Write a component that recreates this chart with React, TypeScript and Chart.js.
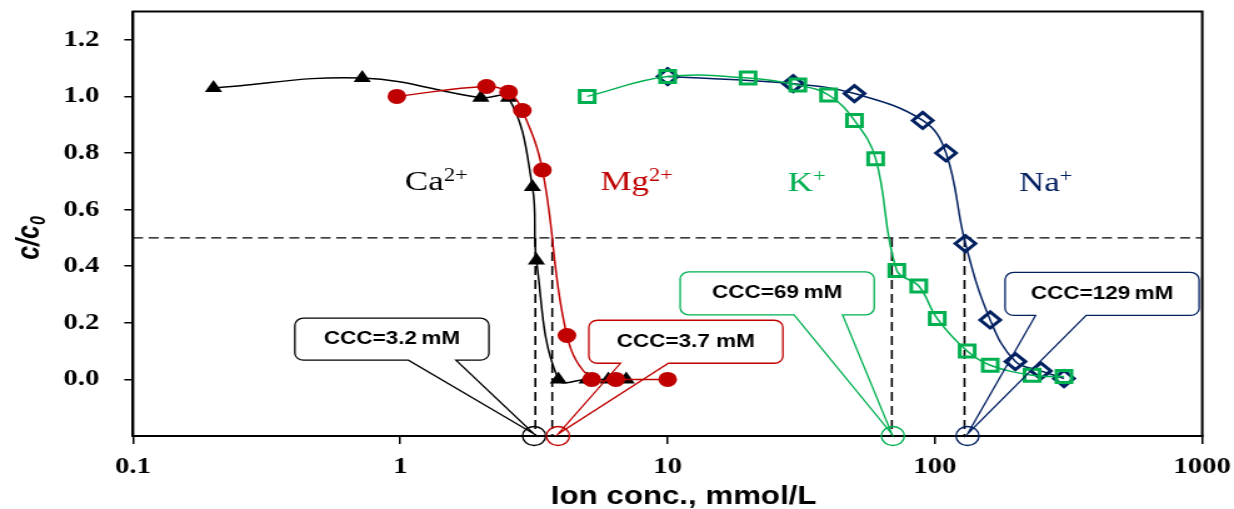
import React, { useEffect, useRef } from 'react';
import { Chart, registerables } from 'chart.js';

Chart.register(...registerables);

// ---------- data ----------
const CA_X = [0.2, 0.72, 2.0, 2.54, 3.12, 3.23, 3.9, 5.0, 6.0, 7.0];
const CA_Y = [1.03, 1.065, 0.995, 0.995, 0.68, 0.42, 0.0, 0.0, 0.0, 0.0];
const MG_X = [0.97, 2.1, 2.54, 2.86, 3.4, 4.2, 5.2, 6.4, 10];
const MG_Y = [1.0, 1.035, 1.015, 0.95, 0.74, 0.155, 0.0, 0.0, 0.0];
const K_X = [5, 10, 20, 30.7, 40, 50, 60, 72, 87, 102, 132, 161, 231, 304];
const K_Y = [1.0, 1.07, 1.065, 1.04, 1.005, 0.915, 0.78, 0.385, 0.33, 0.215, 0.1, 0.05, 0.015, 0.01];
const NA_X = [10, 29.5, 50, 90, 110, 130, 161, 200, 249, 304];
const NA_Y = [1.07, 1.045, 1.01, 0.915, 0.8, 0.48, 0.21, 0.063, 0.03, 0.003];

const ION_NAMES = ['Ca', 'Mg', 'K', 'Na'];
const ION_CHARGES = ['2+', '2+', '+', '+'];
const ION_COLORS = ['#000000', '#c00000', '#00b050', '#002060'];
const ION_LABEL_X = [1.04, 5.6, 28.1, 206];
const ION_LABEL_Y = [0.67, 0.67, 0.665, 0.665];

const CCC_VALUES = [3.2, 3.7, 69, 129];
const CCC_LABELS = ['CCC=3.2\u202FmM', 'CCC=3.7 mM', 'CCC=69\u202FmM', 'CCC=129\u202FmM'];
const THRESHOLD = 0.5;

const X_TICKS = [0.1, 1, 10, 100, 1000];
const X_TICK_LABELS = ['0.1', '1', '10', '100', '1000'];
const Y_TICKS = [0, 0.2, 0.4, 0.6, 0.8, 1.0, 1.2];
const Y_TICK_LABELS = ['0.0', '0.2', '0.4', '0.6', '0.8', '1.0', '1.2'];

// callout boxes (centre in data units)
const BOX_CX = [0.93, 11.7, 25.7, 422];
const BOX_CY = [0.142, 0.133, 0.304, 0.302];

// ---------- layout ----------
const SX = 1.25; // horizontal stretch of the original figure
const W = Math.round(1234 / SX);
const H = 509;
const LEFT = 133 / SX;
const RIGHT_PAD = W - 1202 / SX;
const TOP = 9;
const BOTTOM_H = H - 436;

const BOX_W = 194 / SX;
const BOX_H = [42, 43, 43, 43];
const WEDGE_F1 = [0.585, 0.163, 0.587, 0.157];
const WEDGE_F2 = [0.83, 0.41, 0.837, 0.418];
const TIP_DX = [-1, 4.6, 0, 2.4];
const CIRCLE_DX = [-1, 4.6, 0.8, 2.4];

const SERIF = '"Liberation Serif", "Times New Roman", serif';
const SANS = '"Liberation Sans", Arial, sans-serif';

function pts(xs: number[], ys: number[]) {
  return xs.map((x, i) => ({ x, y: ys[i] }));
}

const overlayPlugin = {
  id: 'overlay',
  beforeDatasetsDraw(chart: any) {
    const { ctx, chartArea: a, scales } = chart;
    const x = scales.x;
    const y = scales.y;
    ctx.save();
    const y5 = y.getPixelForValue(THRESHOLD);
    ctx.strokeStyle = '#000';
    ctx.lineWidth = 1.4;
    ctx.setLineDash([8, 4.5]);
    ctx.beginPath();
    ctx.moveTo(a.left, y5);
    ctx.lineTo(a.right, y5);
    ctx.stroke();
    ctx.setLineDash([9, 5]);
    ctx.lineWidth = 1.6;
    CCC_VALUES.forEach((v) => {
      const px = x.getPixelForValue(v);
      ctx.beginPath();
      ctx.moveTo(px, y5);
      ctx.lineTo(px, a.bottom);
      ctx.stroke();
    });
    ctx.setLineDash([]);
    ctx.lineWidth = 2;
    ctx.strokeRect(a.left, a.top, a.right - a.left, a.bottom - a.top);

    // ion labels
    ION_NAMES.forEach((name, i) => {
      const px = x.getPixelForValue(ION_LABEL_X[i]);
      const py = y.getPixelForValue(ION_LABEL_Y[i]);
      ctx.fillStyle = ION_COLORS[i];
      ctx.textAlign = 'left';
      ctx.textBaseline = 'alphabetic';
      ctx.font = `28px ${SERIF}`;
      ctx.fillText(name, px, py);
      const w = ctx.measureText(name).width;
      ctx.font = `18px ${SERIF}`;
      ctx.fillText(ION_CHARGES[i], px + w, py - 9);
    });
    ctx.restore();
  },
  afterDatasetsDraw(chart: any) {
    const { ctx, chartArea: a, scales } = chart;
    const x = scales.x;
    const y = scales.y;
    ctx.save();
    CCC_VALUES.forEach((v, i) => {
      const color = ION_COLORS[i];
      const cx = x.getPixelForValue(BOX_CX[i]);
      const cy = y.getPixelForValue(BOX_CY[i]);
      const h = BOX_H[i];
      const l = cx - BOX_W / 2;
      const r = cx + BOX_W / 2;
      const t = cy - h / 2;
      const b = cy + h / 2;
      const rad = 7;
      const w1 = l + WEDGE_F1[i] * BOX_W;
      const w2 = l + WEDGE_F2[i] * BOX_W;
      const vx = x.getPixelForValue(v);
      const tipX = vx + TIP_DX[i];
      const tipY = a.bottom - 2;

      // white body
      ctx.beginPath();
      ctx.moveTo(l + rad, t);
      ctx.arcTo(r, t, r, b, rad);
      ctx.arcTo(r, b, l, b, rad);
      ctx.arcTo(l, b, l, t, rad);
      ctx.arcTo(l, t, r, t, rad);
      ctx.closePath();
      ctx.fillStyle = '#fff';
      ctx.fill();

      // outline with pointer
      ctx.beginPath();
      ctx.moveTo(l + rad, t);
      ctx.lineTo(r - rad, t);
      ctx.arcTo(r, t, r, t + rad, rad);
      ctx.lineTo(r, b - rad);
      ctx.arcTo(r, b, r - rad, b, rad);
      ctx.lineTo(w2, b);
      ctx.lineTo(tipX, tipY);
      ctx.lineTo(w1, b);
      ctx.lineTo(l + rad, b);
      ctx.arcTo(l, b, l, b - rad, rad);
      ctx.lineTo(l, t + rad);
      ctx.arcTo(l, t, l + rad, t, rad);
      ctx.closePath();
      ctx.strokeStyle = color;
      ctx.lineWidth = 1.3;
      ctx.stroke();

      // circle marking the CCC on the axis
      ctx.beginPath();
      ctx.ellipse(vx + CIRCLE_DX[i], a.bottom, 9.2, 9.5, 0, 0, Math.PI * 2);
      ctx.stroke();

      ctx.fillStyle = '#000';
      ctx.font = `bold 18px ${SANS}`;
      ctx.textAlign = 'center';
      ctx.textBaseline = 'middle';
      ctx.fillText(CCC_LABELS[i], cx, cy);
    });

    // axis titles
    ctx.fillStyle = '#000';
    ctx.font = `bold 25px ${SANS}`;
    ctx.textAlign = 'center';
    ctx.textBaseline = 'alphabetic';
    ctx.fillText('Ion conc., mmol/L', 683.5 / SX, 504);

    ctx.translate(24, 238);
    ctx.rotate(-Math.PI / 2);
    ctx.font = `italic bold 25px ${SANS}`;
    const main = 'c/c';
    const wm = ctx.measureText(main).width;
    ctx.font = `italic bold 16px ${SANS}`;
    const ws = ctx.measureText('0').width;
    const start = -(wm + ws) / 2;
    ctx.textAlign = 'left';
    ctx.font = `italic bold 25px ${SANS}`;
    ctx.fillText(main, start, 7);
    ctx.font = `italic bold 16px ${SANS}`;
    ctx.fillText('0', start + wm, 12);
    ctx.restore();
  },
};

export default function App() {
  const ref = useRef<HTMLCanvasElement | null>(null);

  useEffect(() => {
    if (!ref.current) return;
    const tickFont = { family: SERIF, size: 23, weight: 'bold' as const };
    const chart = new Chart(ref.current, {
      type: 'scatter',
      data: {
        datasets: [
          {
            label: 'Mg2+',
            data: pts(MG_X, MG_Y),
            showLine: true,
            borderColor: ION_COLORS[1],
            backgroundColor: ION_COLORS[1],
            borderWidth: 1.5,
            tension: 0.4,
            pointStyle: 'circle',
            pointRadius: 7.5,
            pointBorderWidth: 0,
          },
          {
            label: 'Ca2+',
            data: pts(CA_X, CA_Y),
            showLine: true,
            borderColor: ION_COLORS[0],
            backgroundColor: ION_COLORS[0],
            borderWidth: 1.5,
            tension: 0.4,
            pointStyle: 'triangle',
            pointRadius: 8,
            pointBorderWidth: 0,
          },
          {
            label: 'K+',
            data: pts(K_X, K_Y),
            showLine: true,
            borderColor: ION_COLORS[2],
            backgroundColor: 'rgba(0,0,0,0)',
            pointBackgroundColor: 'rgba(0,0,0,0)',
            pointBorderColor: ION_COLORS[2],
            borderWidth: 1.5,
            tension: 0.4,
            pointStyle: 'rect',
            pointRadius: 8.5,
            pointBorderWidth: 3,
          },
          {
            label: 'Na+',
            data: pts(NA_X, NA_Y),
            showLine: true,
            borderColor: ION_COLORS[3],
            backgroundColor: 'rgba(0,0,0,0)',
            pointBackgroundColor: 'rgba(0,0,0,0)',
            pointBorderColor: ION_COLORS[3],
            borderWidth: 1.5,
            tension: 0.4,
            pointStyle: 'rectRot',
            pointRadius: 8,
            pointBorderWidth: 3,
          },
        ],
      },
      options: {
        responsive: false,
        maintainAspectRatio: false,
        devicePixelRatio: 1,
        animation: false,
        layout: { padding: { left: 0, right: RIGHT_PAD, top: TOP, bottom: 0 } },
        plugins: { legend: { display: false }, tooltip: { enabled: false } },
        scales: {
          x: {
            type: 'logarithmic',
            position: 'bottom',
            min: 0.1,
            max: 1000,
            afterBuildTicks: (s: any) => {
              s.ticks = X_TICKS.map((v) => ({ value: v }));
            },
            afterFit: (s: any) => {
              s.height = BOTTOM_H;
              s.paddingLeft = 0;
              s.paddingRight = 0;
            },
            ticks: {
              autoSkip: false,
              maxRotation: 0,
              color: '#000',
              font: tickFont,
              padding: 9,
              callback: (_v: any, i: number) => X_TICK_LABELS[i],
            },
            grid: {
              display: true,
              drawOnChartArea: false,
              drawTicks: true,
              tickLength: 8,
              color: '#000',
              lineWidth: 1.5,
            },
            border: { display: true, color: '#000', width: 2 },
          },
          y: {
            type: 'linear',
            min: -0.2,
            max: 1.3,
            afterBuildTicks: (s: any) => {
              s.ticks = Y_TICKS.map((v) => ({ value: v }));
            },
            afterFit: (s: any) => {
              s.width = LEFT;
              s.paddingTop = 0;
              s.paddingBottom = 0;
            },
            ticks: {
              autoSkip: false,
              color: '#000',
              font: tickFont,
              padding: 20,
              callback: (_v: any, i: number) => Y_TICK_LABELS[i],
            },
            grid: {
              display: true,
              drawOnChartArea: false,
              drawTicks: true,
              tickLength: 7,
              color: '#000',
              lineWidth: 1.5,
            },
            border: { display: true, color: '#000', width: 2 },
          },
        },
      },
      plugins: [overlayPlugin],
    } as any);
    return () => chart.destroy();
  }, []);

  return (
    <div style={{ position: 'absolute', left: 0, top: 0, width: 1234, height: 509, background: '#fff' }}>
      <canvas
        ref={ref}
        width={W}
        height={H}
        style={{ width: '1234px', height: '509px', display: 'block' }}
      />
    </div>
  );
}
